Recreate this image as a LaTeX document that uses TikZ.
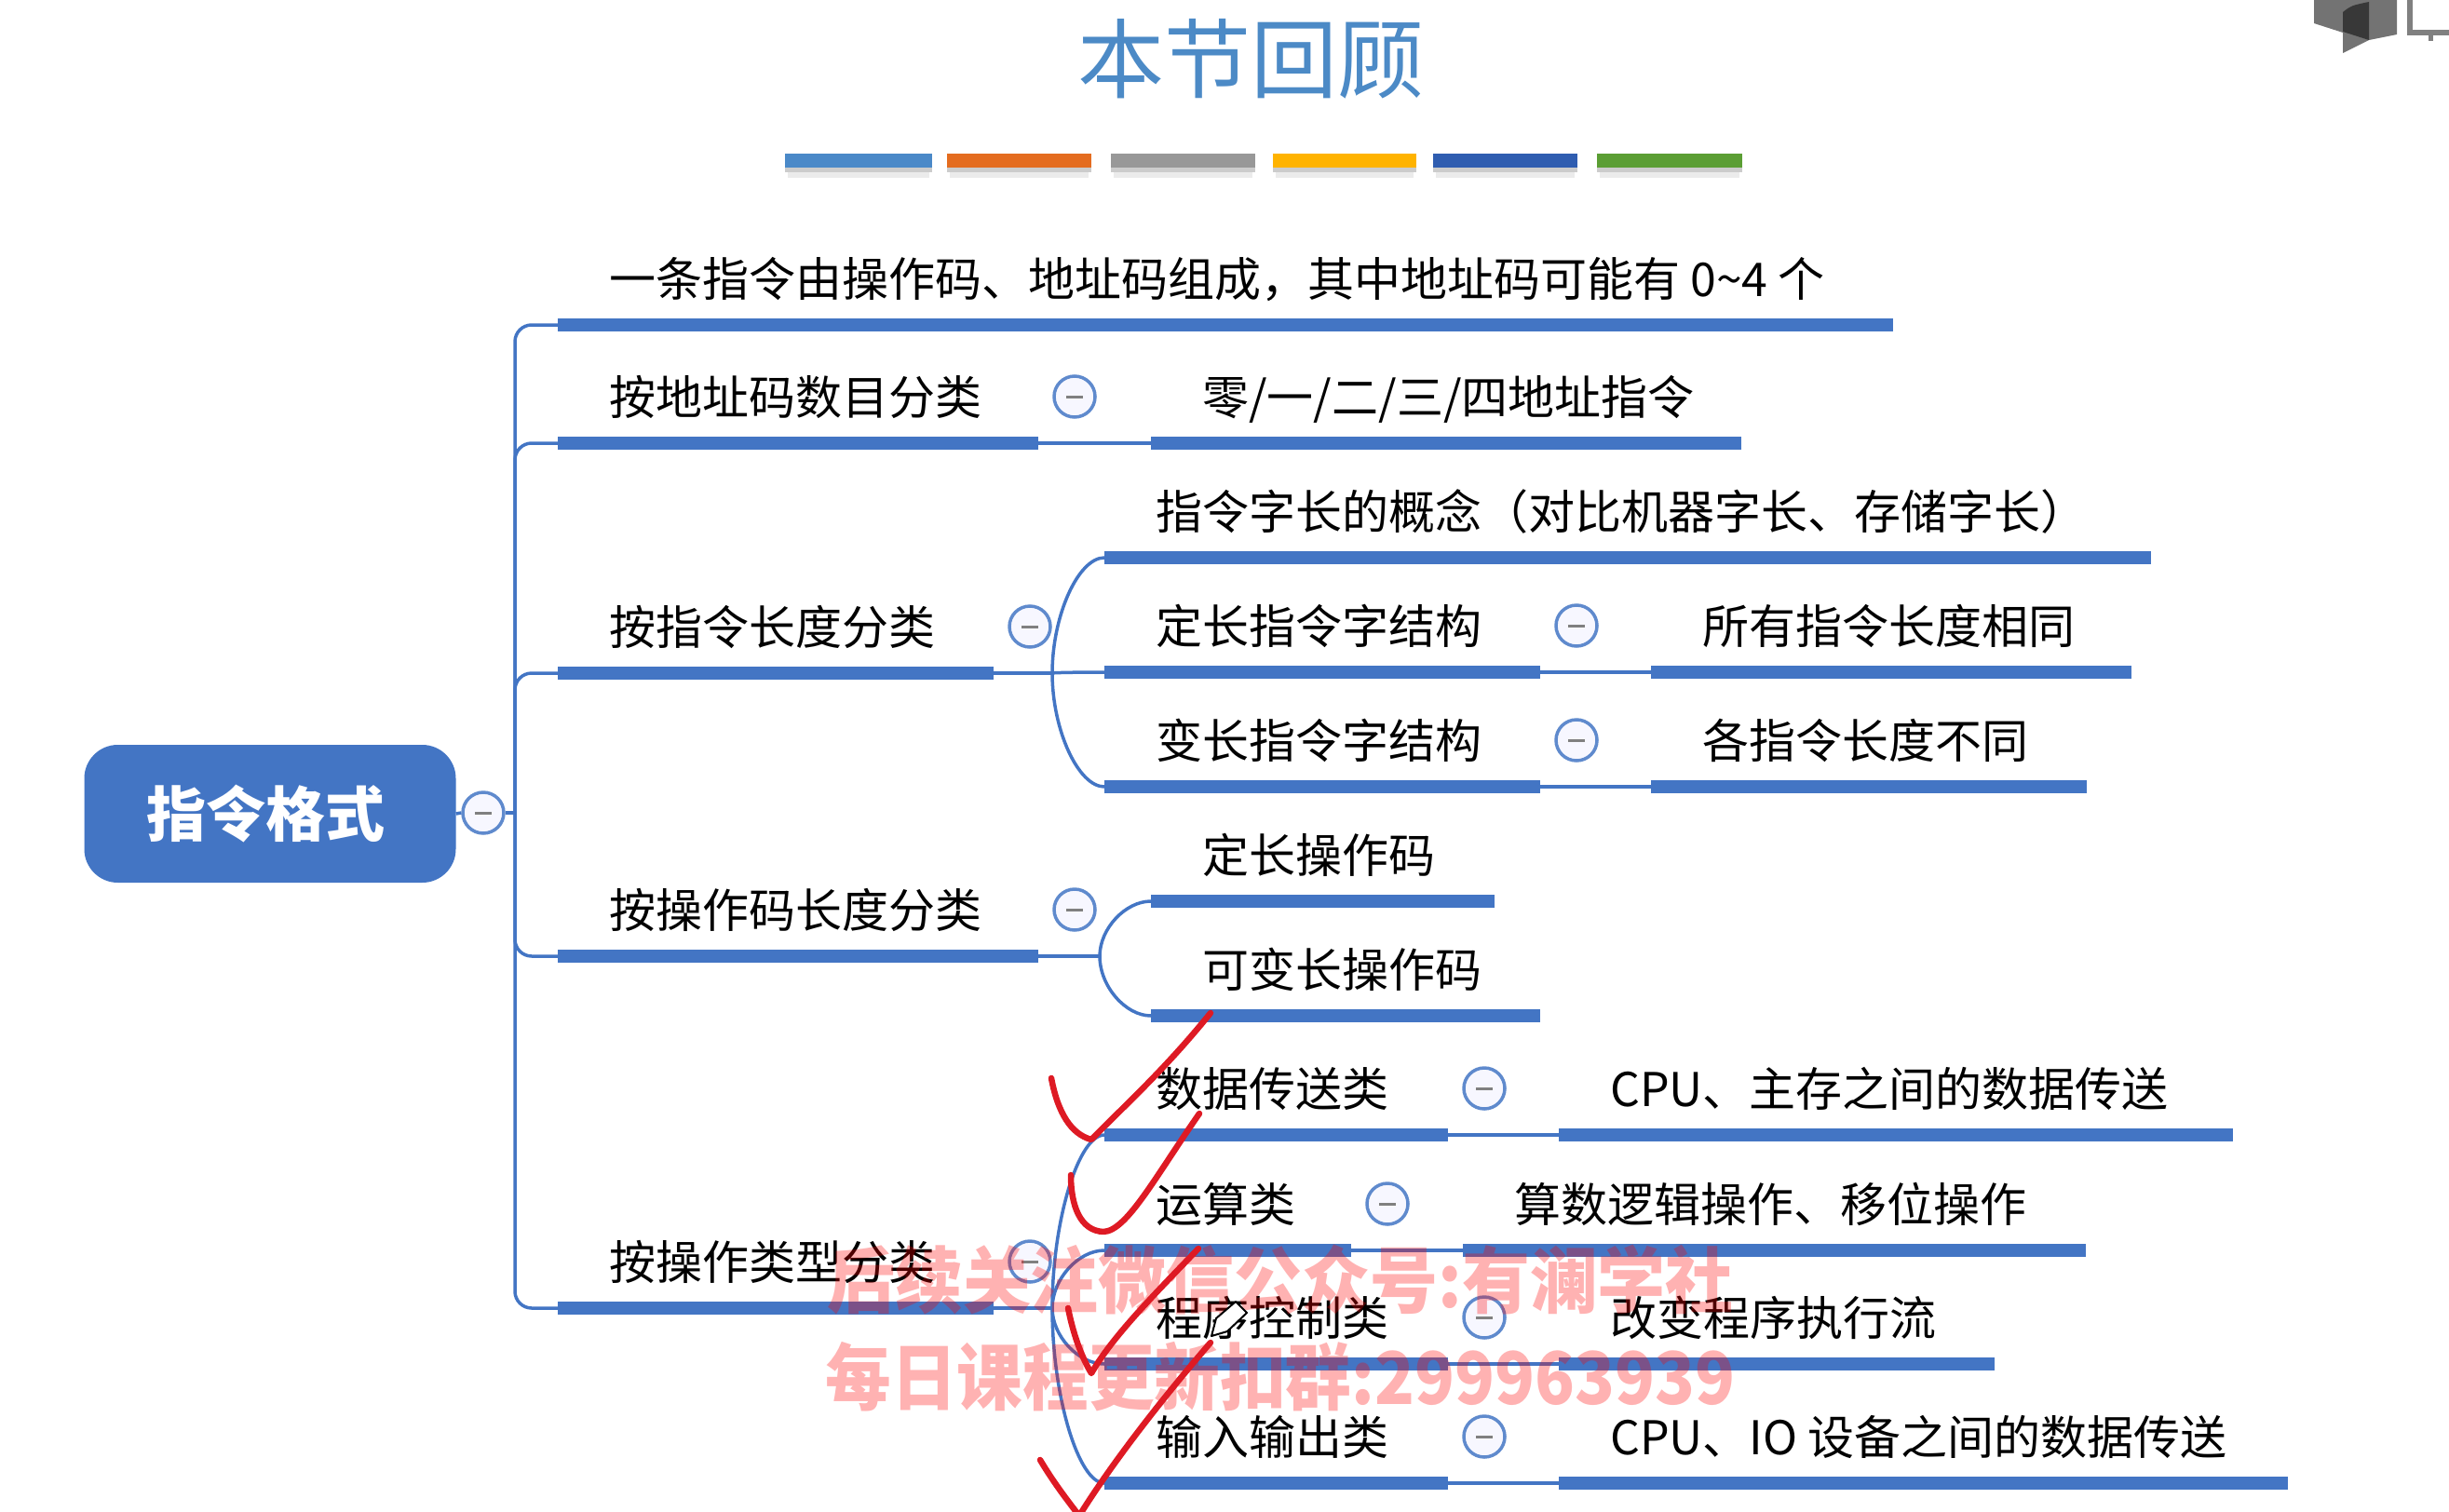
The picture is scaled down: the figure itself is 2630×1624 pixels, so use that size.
\documentclass[tikz,border=0pt]{standalone}
\usepackage{fontspec}
\usetikzlibrary{calc}
\setmainfont{Noto Sans CJK SC}
\definecolor{barblue}{HTML}{4375C4}
\definecolor{titleblue}{HTML}{4C8AC6}
\definecolor{tickred}{HTML}{DE1A24}
\tikzset{
  bar/.style={fill=barblue, minimum height=14pt, inner sep=0pt, outer sep=0pt, anchor=west},
  label/.style={anchor=west, inner sep=0pt, text height=44pt, text depth=6pt, font=\fontsize{50}{60}\selectfont},
  link/.style={barblue, line width=3.5pt},
  fold/.style={circle, draw=barblue!85, fill=blue!3, line width=3.5pt, minimum size=44pt, inner sep=0pt,
    path picture={\draw[gray, line width=3pt] ([xshift=-9pt]path picture bounding box.center) -- ([xshift=9pt]path picture bounding box.center);}},
  tick/.style={tickred, line width=6.5pt, line cap=round, line join=round},
  mark text/.style={text=red, text opacity=0.3, inner sep=0pt, transform shape, font=\fontsize{78}{90}\selectfont\bfseries}
}
% 一根粗线加上方文字
\newcommand{\topic}[5]{%
  \node[bar, minimum width=#3pt-#2pt] (#1) at (#2,#4) {};
  \node[label] (#1t) at (#2+55,#4-50) {#5};
}
% 从分叉点弯到子节点
\newcommand{\bendto}[2]{%
  \draw[link] (#1) .. controls ($(#1)!0.5!(#1 |- #2.west)$) and ($(#1 |- #2.west)!0.5!(#2.west)$) .. (#2.west);
}
\begin{document}
\begin{tikzpicture}[x=1pt, y=-1pt]
  \useasboundingbox (0,0) rectangle (2630,1624);

  % 标题与彩色横条
  \node[titleblue, inner sep=0pt, font=\fontsize{93}{100}\selectfont] (title) at (1343,63) {本节回顾};
  \foreach \xa/\xb/\col in {843/1001/4A89C8, 1017/1172/E46C1F, 1193/1348/989898, 1367/1521/FFB300, 1539/1694/2F5DB0, 1715/1871/5B9E34}{
    \definecolor{stripcol}{HTML}{\col}
    \fill[black!8] (\xa+3,180) rectangle (\xb-3,191);
    \fill[black!20] (\xa,180) rectangle (\xb,185);
    \fill[stripcol] (\xa,165) rectangle (\xb,180);
  }

  % 根节点
  \node[fill=barblue, rounded corners=36pt, minimum width=399pt, minimum height=148pt, inner sep=0pt,
    text=white, font=\fontsize{64}{70}\selectfont\bfseries] (root) at (290,874) {\hspace*{-9pt}指令格式};
  \node[fold] (rootf) at (519,873) {};
  \coordinate (hub) at (553,873);
  \draw[link] (root.east) -- (rootf.west);
  \draw[link] (rootf.east) -- (hub);

  % 第一层
  \topic{intro}{599}{2033}{349}{一条指令由操作码、地址码组成\char"FF0C 其中地址码可能有 0\textasciitilde4 个}
  \topic{addr}{599}{1115}{476}{按地址码数目分类}
  \topic{len}{599}{1067}{723}{按指令长度分类}
  \topic{opc}{599}{1115}{1027}{按操作码长度分类}
  \topic{kind}{599}{1067}{1405}{按操作类型分类}
  \foreach \b in {intro, addr, len, opc, kind}
    \draw[link, rounded corners=18pt] (hub) |- (\b.west);

  % 第二层
  \topic{addrA}{1236}{1870}{476}{零/一/二/三/四地址指令}
  \topic{lenA}{1186}{2310}{599}{指令字长的概念\char"FF08 对比机器字长、存储字长\char"FF09}
  \topic{lenB}{1186}{1654}{722}{定长指令字结构}
  \topic{lenC}{1186}{1654}{845}{变长指令字结构}
  \topic{opcA}{1236}{1605}{968}{定长操作码}
  \topic{opcB}{1236}{1654}{1091}{可变长操作码}
  \topic{kindA}{1186}{1555}{1219}{数据传送类}
  \topic{kindB}{1186}{1451}{1343}{运算类}
  \topic{kindC}{1186}{1555}{1465}{程序控制类}
  \topic{kindD}{1186}{1555}{1593}{输入输出类}

  % 第三层
  \topic{lenBA}{1773}{2289}{722}{所有指令长度相同}
  \topic{lenCA}{1773}{2241}{845}{各指令长度不同}
  \topic{kindAA}{1674}{2398}{1219}{CPU、主存之间的数据传送}
  \topic{kindBA}{1571}{2240}{1343}{算数逻辑操作、移位操作}
  \topic{kindCA}{1674}{2142}{1465}{改变程序执行流}
  \topic{kindDA}{1674}{2457}{1593}{CPU、IO 设备之间的数据传送}

  % 折叠按钮
  \foreach \b in {addr, len, opc, kind, lenB, lenC, kindA, kindB, kindC, kindD}
    \node[fold] (\b f) at ([shift={(39,-50)}]\b.east) {};

  % 连线
  \draw[link] (addr.east) -- (addrA.west);
  \draw[link] (lenB.east) -- (lenBA.west);
  \draw[link] (lenC.east) -- (lenCA.west);
  \draw[link] (kindA.east) -- (kindAA.west);
  \draw[link] (kindB.east) -- (kindBA.west);
  \draw[link] (kindC.east) -- (kindCA.west);
  \draw[link] (kindD.east) -- (kindDA.west);
  \coordinate (lenhub) at (1130,723);
  \coordinate (opchub) at (1181,1027);
  \coordinate (kindhub) at (1130,1405);
  \draw[link] (len.east) -- (lenhub);
  \draw[link] (opc.east) -- (opchub);
  \draw[link] (kind.east) -- (kindhub);
  \foreach \c in {lenA, lenB, lenC}{\bendto{lenhub}{\c}}
  \foreach \c in {opcA, opcB}{\bendto{opchub}{\c}}
  \foreach \c in {kindA, kindB, kindC, kindD}{\bendto{kindhub}{\c}}

  % 水印
  \node[mark text, xscale=0.935] (wm1) at (1375,1375) {后续关注微信公众号:有澜学社};
  \node[mark text, xscale=0.905] (wm2) at (1375,1479) {每日课程更新扣群:299963939};

  % 笔形光标
  \draw[black, fill=white, line width=2pt, line join=round] (1301,1435) -- (1306,1416) -- (1327,1398) -- (1339,1410) -- (1318,1430) -- cycle;

  % 红色对勾
  \draw[tick] (1129,1158) .. controls (1136,1195) and (1150,1218) .. (1172,1224) .. controls (1205,1190) and (1250,1150) .. (1300,1088);
  \draw[tick] (1150,1262) .. controls (1150,1295) and (1160,1322) .. (1185,1323) .. controls (1210,1322) and (1240,1265) .. (1288,1196);
  \draw[tick] (1147,1405) .. controls (1152,1430) and (1160,1455) .. (1172,1475) .. controls (1195,1435) and (1240,1390) .. (1287,1341);
  \draw[tick] (1117,1568) .. controls (1130,1590) and (1145,1610) .. (1159,1628) .. controls (1195,1570) and (1250,1500) .. (1300,1442);

  % 右上角图标
  \fill[black!55] (2485,0) -- (2485,25) -- (2516,35) -- (2516,57) -- (2544,43) -- (2574,37) -- (2574,0) -- cycle;
  \fill[black!78] (2516,13) .. controls (2525,6) .. (2544,2) -- (2544,43) -- (2516,34) -- cycle;
  \draw[black!50, line width=6pt] (2588,0) -- (2588,35) -- (2630,35);
  \draw[black!50, line width=5pt] (2610,35) -- (2610,44);
\end{tikzpicture}
\end{document}
